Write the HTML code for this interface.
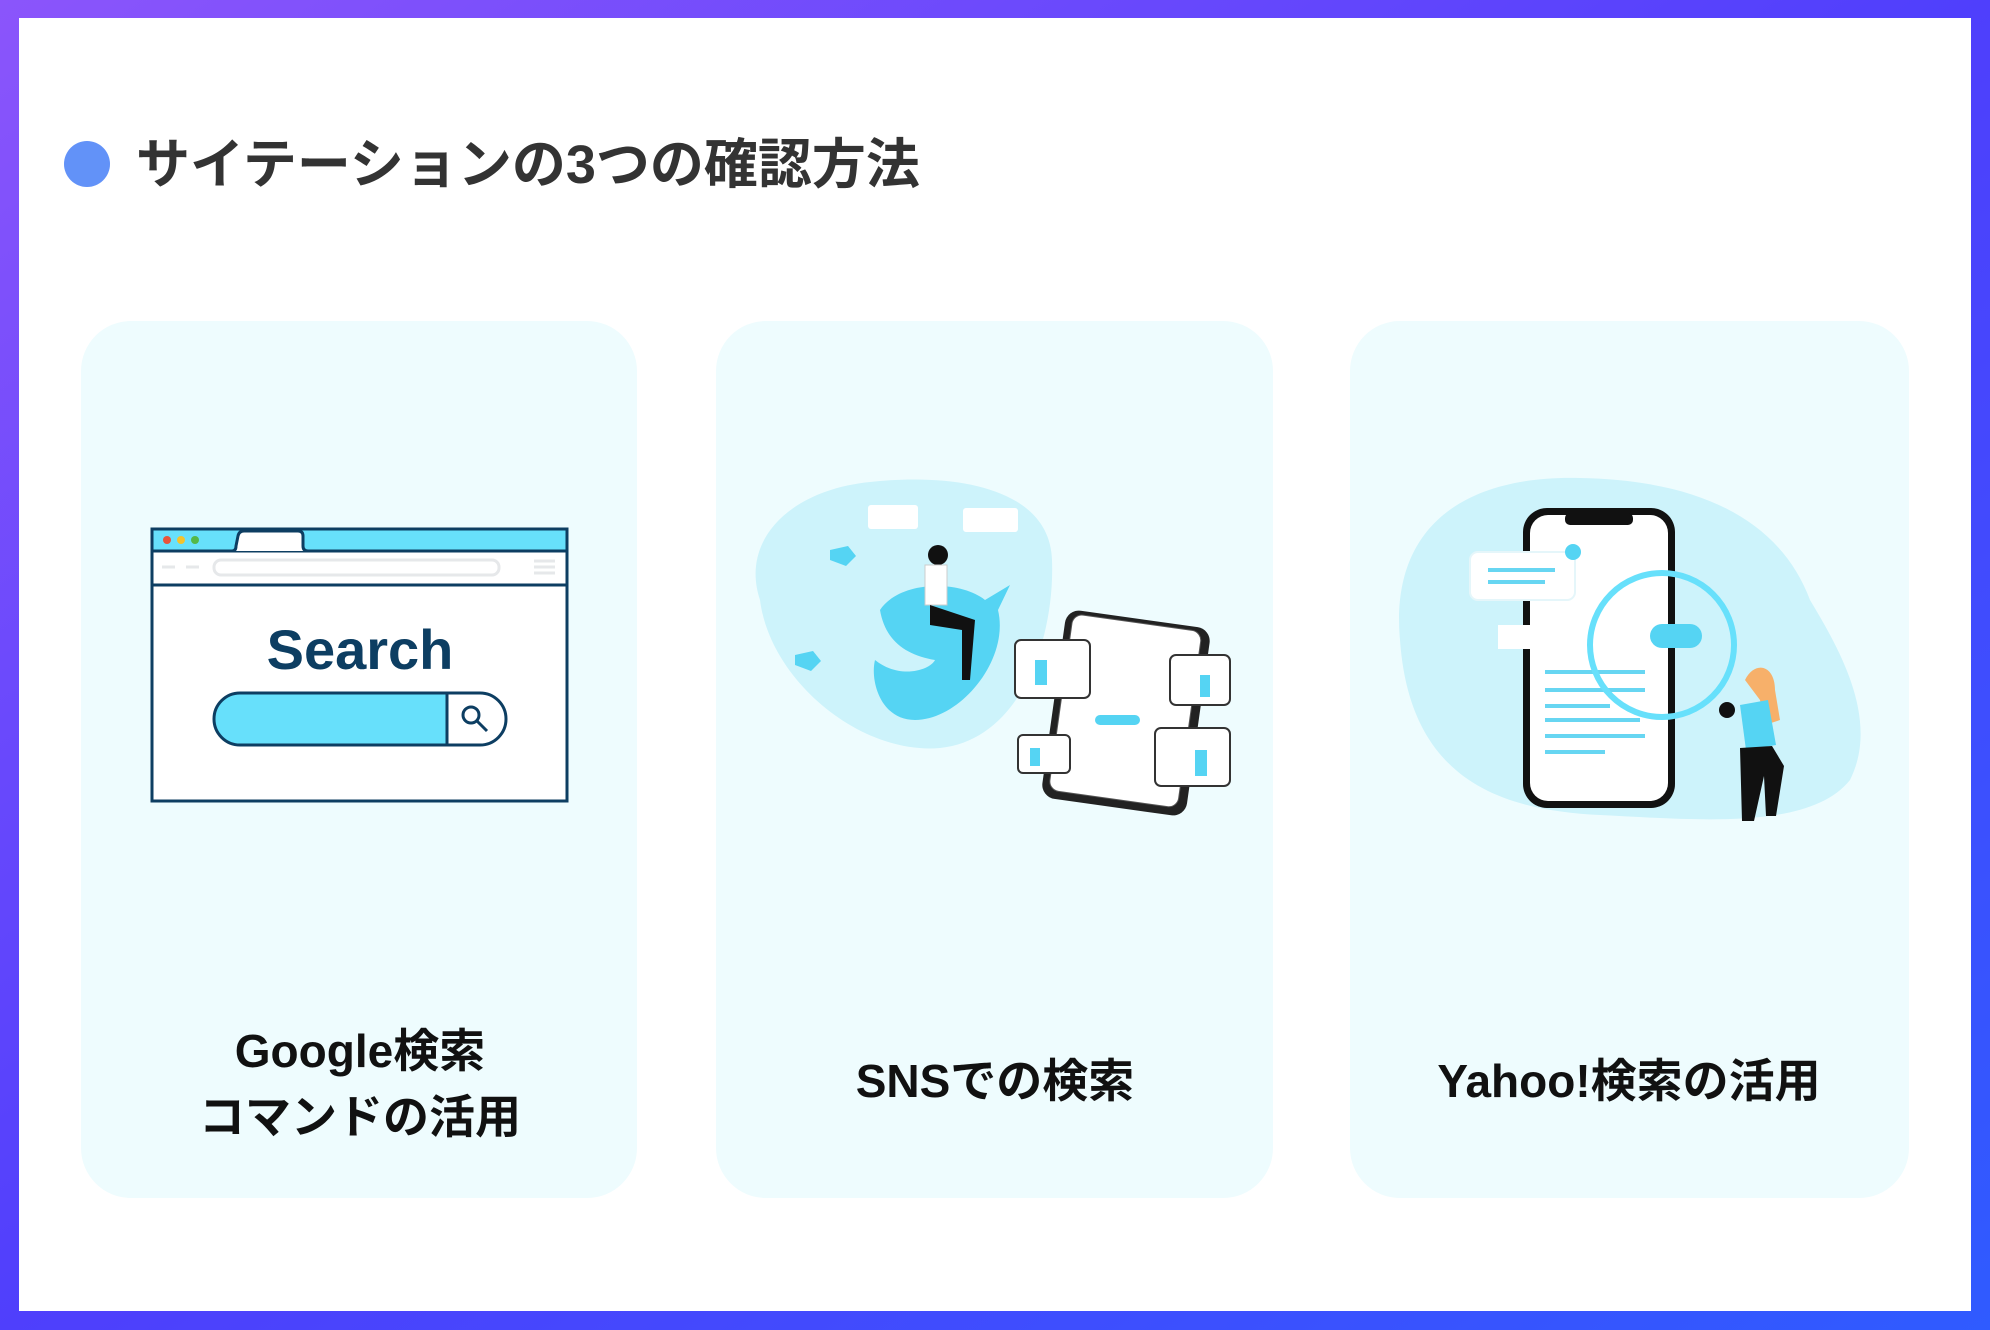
<!DOCTYPE html>
<html><head><meta charset="utf-8"><style>
html,body{margin:0;padding:0;width:1990px;height:1330px;overflow:hidden;background:#fff}
svg{display:block}
text{font-family:"Liberation Sans","Noto Sans CJK JP",sans-serif;font-weight:700}
</style></head><body>
<svg width="1990" height="1330" viewBox="0 0 1990 1330" xmlns="http://www.w3.org/2000/svg">
<defs>
<linearGradient id="fr" x1="0" y1="0" x2="1" y2="1">
<stop offset="0" stop-color="#8b55fb"/><stop offset="0.5" stop-color="#4f3ffc"/><stop offset="1" stop-color="#2f5bff"/>
</linearGradient>
</defs>
<rect width="1990" height="1330" fill="url(#fr)"/>
<rect x="19" y="18" width="1952" height="1293" fill="#fff"/>
<circle cx="87" cy="164" r="23" fill="#6292f8"/>
<text x="136" y="183" font-size="54" fill="#333">サイテーションの3つの確認方法</text>

<rect x="81" y="321" width="556" height="877" rx="50" fill="#eefcfe"/>
<rect x="716" y="321" width="557" height="877" rx="50" fill="#eefcfe"/>
<rect x="1350" y="321" width="559" height="877" rx="50" fill="#eefcfe"/>

<!-- browser -->
<g stroke="#0d3e62" stroke-width="3">
<rect x="152" y="529" width="415" height="272" fill="#fff"/>
<rect x="152" y="529" width="415" height="22" fill="#67e0fb"/>
<path d="M152 551 H232 Q236 551 236 546 L238 536 Q239 531 244 531 H298 Q303 531 303 536 V546 Q303 551 308 551 H567" fill="#fff"/>
<line x1="152" y1="585" x2="567" y2="585"/>
<path d="M240 693 H447 V745 H240 A26 26 0 0 1 240 693 Z" fill="#67e0fb"/>
<path d="M447 693 H480 A26 26 0 0 1 480 745 H447 Z" fill="#fff"/>
<circle cx="471" cy="715" r="8" fill="none"/><line x1="477" y1="721" x2="487" y2="731"/>
</g>
<circle cx="167" cy="540" r="4" fill="#e8543a"/><circle cx="181" cy="540" r="4" fill="#f4c32c"/><circle cx="195" cy="540" r="4" fill="#55b848"/>
<rect x="214" y="560" width="285" height="15" rx="7" fill="none" stroke="#e6e8ea" stroke-width="3"/>
<g stroke="#e6e8ea" stroke-width="3"><line x1="534" y1="561" x2="555" y2="561"/><line x1="534" y1="567" x2="555" y2="567"/><line x1="534" y1="573" x2="555" y2="573"/><line x1="162" y1="567" x2="175" y2="567"/><line x1="186" y1="567" x2="199" y2="567"/></g>
<text x="360" y="669" font-size="56" fill="#0d3e62" text-anchor="middle">Search</text>

<!-- SNS -->
<path d="M760 600 C740 540 790 490 870 482 C960 472 1050 490 1052 560 C1055 640 1020 740 940 748 C860 755 770 680 760 600Z" fill="#cdf3fb"/>
<path d="M880 610 C900 580 960 580 985 600 L1010 585 L998 610 C1010 660 960 720 915 720 C880 720 870 680 875 660 C900 680 930 670 935 660 C905 655 885 640 880 610Z" fill="#55d4f3"/>
<path d="M830 550 l18 -4 l8 10 l-10 10 l-16 -6z" fill="#55d4f3"/>
<path d="M795 655 l18 -4 l8 10 l-10 10 l-16 -6z" fill="#55d4f3"/>
<rect x="868" y="505" width="50" height="24" rx="3" fill="#fff"/><rect x="963" y="508" width="55" height="24" rx="3" fill="#fff"/>
<circle cx="938" cy="555" r="10" fill="#111"/><rect x="925" y="565" width="22" height="40" fill="#fff" stroke="#ccc"/>
<path d="M930 605 L975 620 L970 680 L962 680 L962 630 L930 625Z" fill="#111"/>
<rect x="1053" y="618" width="146" height="190" rx="14" fill="#222" transform="rotate(8 1126 713)"/>
<rect x="1060" y="622" width="130" height="178" rx="10" fill="#fff" stroke="#555" transform="rotate(8 1126 713)"/>
<g fill="#fff" stroke="#333" stroke-width="2">
<rect x="1015" y="640" width="75" height="58" rx="6"/><rect x="1170" y="655" width="60" height="50" rx="6"/>
<rect x="1018" y="735" width="52" height="38" rx="5"/><rect x="1155" y="728" width="75" height="58" rx="6"/></g>
<g fill="#55d4f3"><rect x="1035" y="660" width="12" height="25"/><rect x="1200" y="675" width="10" height="22"/><rect x="1030" y="748" width="10" height="18"/><rect x="1195" y="750" width="12" height="26"/><rect x="1095" y="715" width="45" height="10" rx="5"/></g>

<!-- Yahoo -->
<path d="M1400 640 C1390 530 1460 475 1580 478 C1700 480 1780 520 1810 600 C1840 650 1880 720 1850 780 C1810 830 1700 820 1600 815 C1500 810 1410 780 1400 640Z" fill="#cdf3fb"/>
<rect x="1523" y="508" width="152" height="300" rx="24" fill="#111"/>
<rect x="1530" y="515" width="138" height="286" rx="18" fill="#fff"/>
<rect x="1565" y="513" width="68" height="12" rx="5" fill="#111"/>
<rect x="1470" y="552" width="105" height="48" rx="8" fill="#fff" stroke="#e5f6fa" stroke-width="2"/>
<g stroke="#67d6f2" stroke-width="4"><line x1="1488" y1="570" x2="1555" y2="570"/><line x1="1488" y1="582" x2="1545" y2="582"/>
<line x1="1545" y1="672" x2="1645" y2="672"/><line x1="1545" y1="690" x2="1645" y2="690"/><line x1="1545" y1="706" x2="1610" y2="706"/><line x1="1545" y1="720" x2="1640" y2="720"/><line x1="1545" y1="736" x2="1645" y2="736"/><line x1="1545" y1="752" x2="1605" y2="752"/></g>
<circle cx="1573" cy="552" r="8" fill="#55d4f3"/>
<rect x="1498" y="625" width="155" height="24" fill="#fff"/>
<rect x="1650" y="624" width="52" height="24" rx="12" fill="#55d4f3"/>
<circle cx="1662" cy="645" r="72" fill="none" stroke="#67e0fb" stroke-width="6"/>
<path d="M1745 680 c10 -20 30 -15 30 10 l5 30 l-15 5 l-5 -25z" fill="#f7b06a"/>
<path d="M1740 705 l28 -5 l8 45 l-30 5z" fill="#55d4f3"/>
<path d="M1740 748 l32 -2 l12 20 l-8 50 l-10 0 l-2 -40 l-10 45 l-12 0z" fill="#111"/>
<circle cx="1727" cy="710" r="8" fill="#111"/>

<text x="360" y="1067" font-size="46" fill="#111" text-anchor="middle">Google検索</text>
<text x="360" y="1133" font-size="46" fill="#111" text-anchor="middle">コマンドの活用</text>
<text x="995" y="1097" font-size="46" fill="#111" text-anchor="middle">SNSでの検索</text>
<text x="1629" y="1097" font-size="46" fill="#111" text-anchor="middle">Yahoo!検索の活用</text>
</svg>
</body></html>
